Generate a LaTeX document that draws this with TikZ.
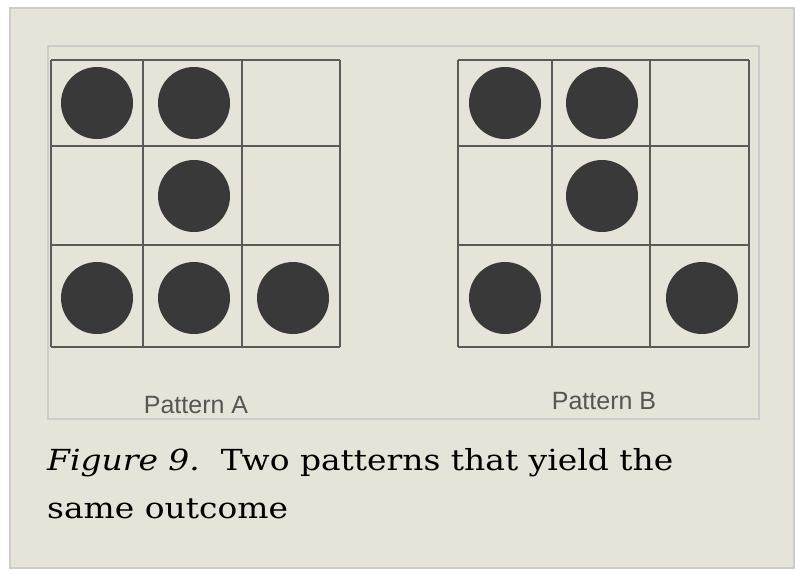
\documentclass[tikz,border=0pt]{standalone}
\usepackage{fontspec}
\setmainfont{DejaVu Serif}
\setsansfont{Liberation Sans}
\newfontfamily\captionfont[FakeStretch = 1.135]{DejaVu Serif}
\usetikzlibrary{positioning}
\definecolor{paper}{HTML}{E6E3D8}
\definecolor{rim}{HTML}{CCCCCC}
\definecolor{gridline}{HTML}{5A5A5A}
\definecolor{dot}{HTML}{393939}
\definecolor{labelgray}{HTML}{555555}
\begin{document}
\begin{tikzpicture}
    [
        x = 1pt, y = -1pt,
        cell/.style = {draw = gridline, line width = 1.3pt},
        stone/.style = {circle, fill = dot, minimum size = 72pt, inner sep = 0pt},
        patternlabel/.style = {anchor = base, text = labelgray, font = \sffamily\fontsize{25}{25}\selectfont},
        captionline/.style = {anchor = base west, inner sep = 0pt, font = \captionfont\fontsize{29}{33}\selectfont}
    ]

        \useasboundingbox (0,0) rectangle (802,574);
        \fill[white] (0,0) rectangle (802,574);
        \draw[rim, fill = paper, line width = 2pt] (10,8) rectangle (794,568);
        \draw[rim, line width = 2pt] (48,46) rectangle (759,419);

        % Pattern A grid
        \foreach \x in {51,143,242,340}
            \draw[cell] (\x,60) -- (\x,347);
        \foreach \y in {60,146,245,347}
            \draw[cell] (51,\y) -- (340,\y);

        % Pattern B grid
        \foreach \x in {458,552,650,749}
            \draw[cell] (\x,60) -- (\x,347);
        \foreach \y in {60,146,245,347}
            \draw[cell] (458,\y) -- (749,\y);

        % stones of pattern A
        \node[stone] (a11) at (97,103) {};
        \node[stone] (a12) at (194,103) {};
        \node[stone] (a22) at (194,196) {};
        \node[stone] (a31) at (97,298) {};
        \node[stone] (a32) at (194,298) {};
        \node[stone] (a33) at (293,298) {};

        % stones of pattern B
        \node[stone] (b11) at (505,103) {};
        \node[stone] (b12) at (602,103) {};
        \node[stone] (b22) at (602,196) {};
        \node[stone] (b31) at (505,298) {};
        \node[stone] (b33) at (702,298) {};

        \node[patternlabel] (labelA) at (196,413) {Pattern A};
        \node[patternlabel] (labelB) at (604,409) {Pattern B};

        \node[captionline] (caption1) at (47,470) {\textit{Figure 9.}\ \ Two patterns that yield the};
        \node[captionline] (caption2) at (47,518) {same outcome};
    \end{tikzpicture}
\end{document}
